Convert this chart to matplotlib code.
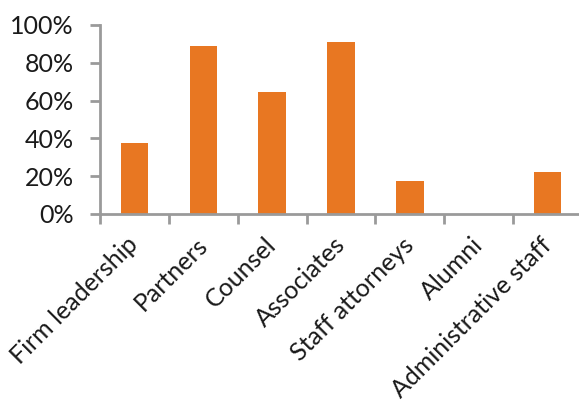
import matplotlib
matplotlib.use("Agg")
import matplotlib.pyplot as plt
import matplotlib.transforms as mtransforms
from matplotlib.ticker import FixedLocator, PercentFormatter

categories = ["Firm leadership", "Partners", "Counsel", "Associates",
              "Staff attorneys", "Alumni", "Administrative staff"]
values = [37.5, 89, 64.5, 91, 17.5, 0, 22.2]

plt.rcParams['font.family'] = ['Lato', 'DejaVu Sans']

fig = plt.figure(figsize=(5.79, 4.05), dpi=100)
ax = fig.add_axes([100/579, 1-214/405, 482/579, 189/405])

x = list(range(len(categories)))
ax.bar(x, values, width=0.4, color="#E87722", zorder=2)

ax.set_xlim(-0.5, len(categories) - 0.5)
ax.set_ylim(0, 100)
ax.set_yticks([0, 20, 40, 60, 80, 100])
ax.yaxis.set_major_formatter(PercentFormatter(decimals=0))

ax.set_xticks(x)
ax.set_xticklabels([])
offset = mtransforms.ScaledTranslation(-8/100, -19/100, fig.dpi_scale_trans)
for i, cat in zip(x, categories):
    ax.text(i, 0, cat, transform=ax.get_xaxis_transform() + offset,
            rotation=45, ha="right", va="top", rotation_mode="anchor",
            fontsize=18, color="#1a1a1a")
ax.xaxis.set_minor_locator(FixedLocator([i - 0.5 for i in range(len(categories) + 1)]))
ax.tick_params(axis="x", which="major", length=0)
ax.tick_params(axis="x", which="minor", length=7, width=2, color="#9a9a9a", direction="out")
ax.tick_params(axis="y", length=7, width=2, color="#9a9a9a", labelsize=18,
               labelcolor="#1a1a1a", pad=12)

for s in ["top", "right"]:
    ax.spines[s].set_visible(False)
for s in ["left", "bottom"]:
    ax.spines[s].set_color("#9a9a9a")
    ax.spines[s].set_linewidth(2)

fig.savefig("out.png", dpi=100)
